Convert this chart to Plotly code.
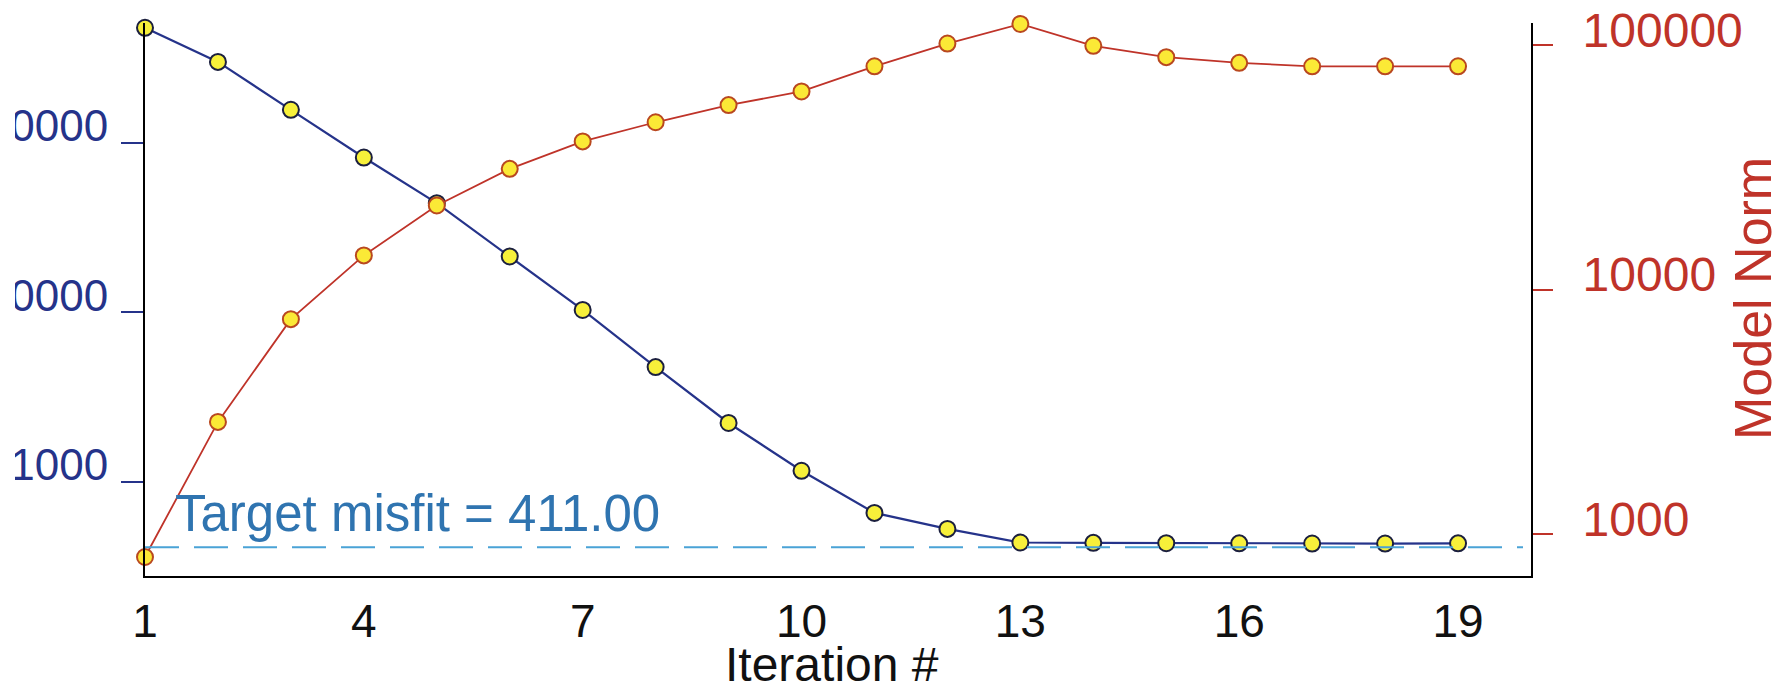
import plotly.graph_objects as go

iterations = list(range(1, 20))
data_misfit = [475000, 299000, 156000, 81600, 43900, 21300, 10300, 4740, 2220, 1160,
               655, 527, 438, 436, 434, 433, 432, 432, 433]
model_norm = [805, 2875, 7570, 13800, 22100, 31200, 40400, 48400, 56900, 64700,
              82000, 101600, 122200, 99500, 89400, 84700, 82000, 82000, 82000]
target_misfit = 411.0
x_ticks = [1, 4, 7, 10, 13, 16, 19]
left_ticks = [1000, 10000, 100000]
right_ticks = [1000, 10000, 100000]

BLUE = "#25338a"
RED = "#bf3329"
TARGET_C = "#2f74b0"
DASH_C = "#4aa3d6"
FONT = "Liberation Sans, Arial, sans-serif"

W, H = 1787, 699
L, R, T, B = 145, 256, 23, 123
pw = W - L - R
ph = H - T - B

fig = go.Figure()

fig.add_trace(go.Scatter(
    x=iterations, y=model_norm, yaxis="y2", mode="lines+markers",
    line=dict(color=RED, width=1.8),
    marker=dict(size=16, color="#fbe936", line=dict(color="#b9481f", width=2)),
    cliponaxis=False, showlegend=False))

fig.add_trace(go.Scatter(
    x=iterations, y=data_misfit, yaxis="y", mode="lines+markers",
    line=dict(color=BLUE, width=2.2),
    marker=dict(size=16, color="#f7f03a", line=dict(color="#1b1f3e", width=2)),
    cliponaxis=False, showlegend=False))

fig.add_shape(type="line", xref="paper", yref="y", x0=0, x1=(1523 - L) / pw,
              y0=target_misfit, y1=target_misfit,
              line=dict(color=DASH_C, width=2, dash="34px,15px"))

fig.add_annotation(text=f"Target misfit = {target_misfit:.2f}", xref="paper", yref="paper",
                   x=(173 - L) / pw, y=(576 - 513) / ph, xanchor="left", yanchor="middle",
                   showarrow=False, font=dict(family=FONT, size=51, color=TARGET_C))

fig.add_annotation(text="Model Norm", xref="paper", yref="paper",
                   x=(1753 - L) / pw, y=(576 - 299) / ph, xanchor="center", yanchor="middle",
                   textangle=-90, showarrow=False, font=dict(family=FONT, size=52, color=RED))

fig.add_annotation(text="Iteration #", xref="paper", yref="paper",
                   x=(832 - L) / pw, y=(576 - 664) / ph, xanchor="center", yanchor="middle",
                   showarrow=False, font=dict(family=FONT, size=48, color="#111111"))

# white strip mimicking the cropped left edge of the original
fig.add_shape(type="rect", xref="paper", yref="paper", x0=(-L - 5) / pw, x1=(15 - L) / pw,
              y0=-0.3, y1=1.1, fillcolor="white", line=dict(width=0), layer="above")

fig.update_layout(
    width=W, height=H, margin=dict(l=L, r=R, t=T, b=B, autoexpand=False),
    paper_bgcolor="white", plot_bgcolor="white",
    xaxis=dict(range=[1, 20], tickvals=x_ticks, ticks="", showgrid=False, zeroline=False,
               showline=True, linecolor="black", linewidth=2, automargin=False,
               tickfont=dict(family=FONT, size=46, color="#111111"),
               ticklabelstandoff=4),
    yaxis=dict(type="log", range=[2.444, 5.705], tickvals=left_ticks,
               ticktext=[str(v) for v in left_ticks], ticks="outside", ticklen=22,
               tickwidth=2, tickcolor=BLUE, showgrid=False, zeroline=False, automargin=False,
               showline=True, linecolor="black", linewidth=2,
               tickfont=dict(family=FONT, size=44, color=BLUE), ticklabelstandoff=4,
               ticklabelshift=-17),
    yaxis2=dict(type="log", range=[2.828, 5.091], overlaying="y", side="right", anchor="x",
                tickvals=right_ticks, ticktext=[str(v) for v in right_ticks],
                ticks="outside", ticklen=20, tickwidth=2, tickcolor=RED, automargin=False,
                showgrid=False, zeroline=False, showline=True, linecolor="black", linewidth=2,
                tickfont=dict(family=FONT, size=48, color=RED), ticklabelstandoff=20,
                ticklabelshift=-15),
)

fig.write_html("out.html")
